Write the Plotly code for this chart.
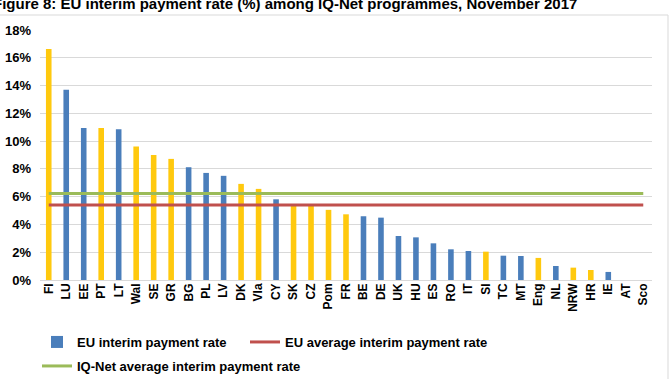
import plotly.graph_objects as go

categories = ["FI", "LU", "EE", "PT", "LT", "Wal", "SE", "GR", "BG", "PL", "LV", "DK", "Vla",
              "CY", "SK", "CZ", "Pom", "FR", "BE", "DE", "UK", "HU", "ES", "RO", "IT", "SI",
              "TC", "MT", "Eng", "NL", "NRW", "HR", "IE", "AT", "Sco"]
rates = [16.63, 13.69, 10.95, 10.95, 10.86, 9.61, 9.0, 8.72, 8.12, 7.71, 7.5, 6.92, 6.56,
         5.81, 5.45, 5.42, 5.05, 4.73, 4.59, 4.49, 3.17, 3.07, 2.64, 2.21, 2.09, 2.04,
         1.75, 1.73, 1.59, 1.01, 0.89, 0.72, 0.58, 0.0, 0.0]
# group: "b" = blue bar, "y" = yellow bar
groups = ["y", "b", "b", "y", "b", "y", "y", "y", "b", "b", "b", "y", "y",
          "b", "y", "y", "y", "y", "b", "b", "b", "b", "b", "b", "b", "y",
          "b", "b", "y", "b", "y", "y", "b", "b", "b"]
eu_average = 5.4
iqnet_average = 6.22
y_ticks = [0, 2, 4, 6, 8, 10, 12, 14, 16, 18]
y_tick_labels = ["0%", "2%", "4%", "6%", "8%", "10%", "12%", "14%", "16%", "18%"]

BLUE = "#4A7EBB"
YELLOW = "#FFC90E"
RED = "#C0504D"
GREEN = "#9BBB59"
FONT = "Liberation Sans"
NARROW = "Liberation Sans Narrow, Liberation Sans, Arial"

blue_vals = [v if g == "b" else None for v, g in zip(rates, groups)]
yellow_vals = [v if g == "y" else None for v, g in zip(rates, groups)]

fig = go.Figure()
fig.add_trace(go.Bar(x=categories, y=blue_vals, name="EU interim payment rate",
                     marker=dict(color=BLUE, line=dict(width=0)), width=0.32,
                     legend="legend"))
fig.add_trace(go.Bar(x=categories, y=yellow_vals, name="EU interim payment rate",
                     marker=dict(color=YELLOW, line=dict(width=0)), width=0.32,
                     showlegend=False))
fig.add_trace(go.Scatter(x=categories, y=[eu_average] * len(categories), mode="lines",
                         name="EU average interim payment rate",
                         line=dict(color=RED, width=3), legend="legend2"))
fig.add_trace(go.Scatter(x=categories, y=[iqnet_average] * len(categories), mode="lines",
                         name="IQ-Net average interim payment rate",
                         line=dict(color=GREEN, width=3), legend="legend3"))

L, R, T, B = 40, 20, 30, 99
W, H = 672, 379
pw, ph = W - L - R, H - T - B


def px(xp):
    return (xp - L) / pw


def py(yp):
    return (H - B - yp) / ph


legend_font = dict(family=NARROW, size=13, color="#000000", weight="bold")
common_legend = dict(bgcolor="rgba(0,0,0,0)", font=legend_font, orientation="v",
                     xanchor="left", yanchor="middle", itemwidth=30)

fig.update_layout(
    width=W, height=H,
    margin=dict(l=L, r=R, t=T, b=B, pad=0, autoexpand=False),
    paper_bgcolor="white", plot_bgcolor="white",
    barmode="overlay",
    font=dict(family=FONT, size=12, color="#000000"),
    legend=dict(**common_legend, x=px(37), y=py(342)),
    legend2=dict(**common_legend, x=px(245), y=py(342)),
    legend3=dict(**common_legend, x=px(37), y=py(366)),
    xaxis=dict(categoryorder="array", categoryarray=categories, range=[-0.5, len(categories) - 0.5],
               tickangle=-90, tickfont=dict(family=FONT, size=12, weight="bold"),
               showgrid=False, showline=False, ticks="", automargin=False),
    yaxis=dict(range=[0, 18], tickvals=y_ticks, ticktext=y_tick_labels,
               tickfont=dict(family=FONT, size=13, weight="bold"),
               showgrid=True, gridcolor="#D9D9D9", gridwidth=1,
               zeroline=True, zerolinecolor="#D9D9D9", zerolinewidth=1,
               showline=False, ticks="", ticklabelstandoff=8, automargin=False),
    shapes=[dict(type="rect", xref="paper", yref="paper",
                 x0=px(-2), x1=px(668), y0=py(382), y1=py(15),
                 line=dict(color="#D9D9D9", width=1), fillcolor="rgba(0,0,0,0)", layer="below")],
    annotations=[dict(text="Figure 8: EU interim payment rate (%) among IQ-Net programmes, November 2017",
                      xref="paper", yref="paper", x=px(-9), y=py(4), xanchor="left", yanchor="middle",
                      showarrow=False, font=dict(family=FONT, size=15, weight="bold", color="#000000"))],
)

fig.write_html("out.html")
